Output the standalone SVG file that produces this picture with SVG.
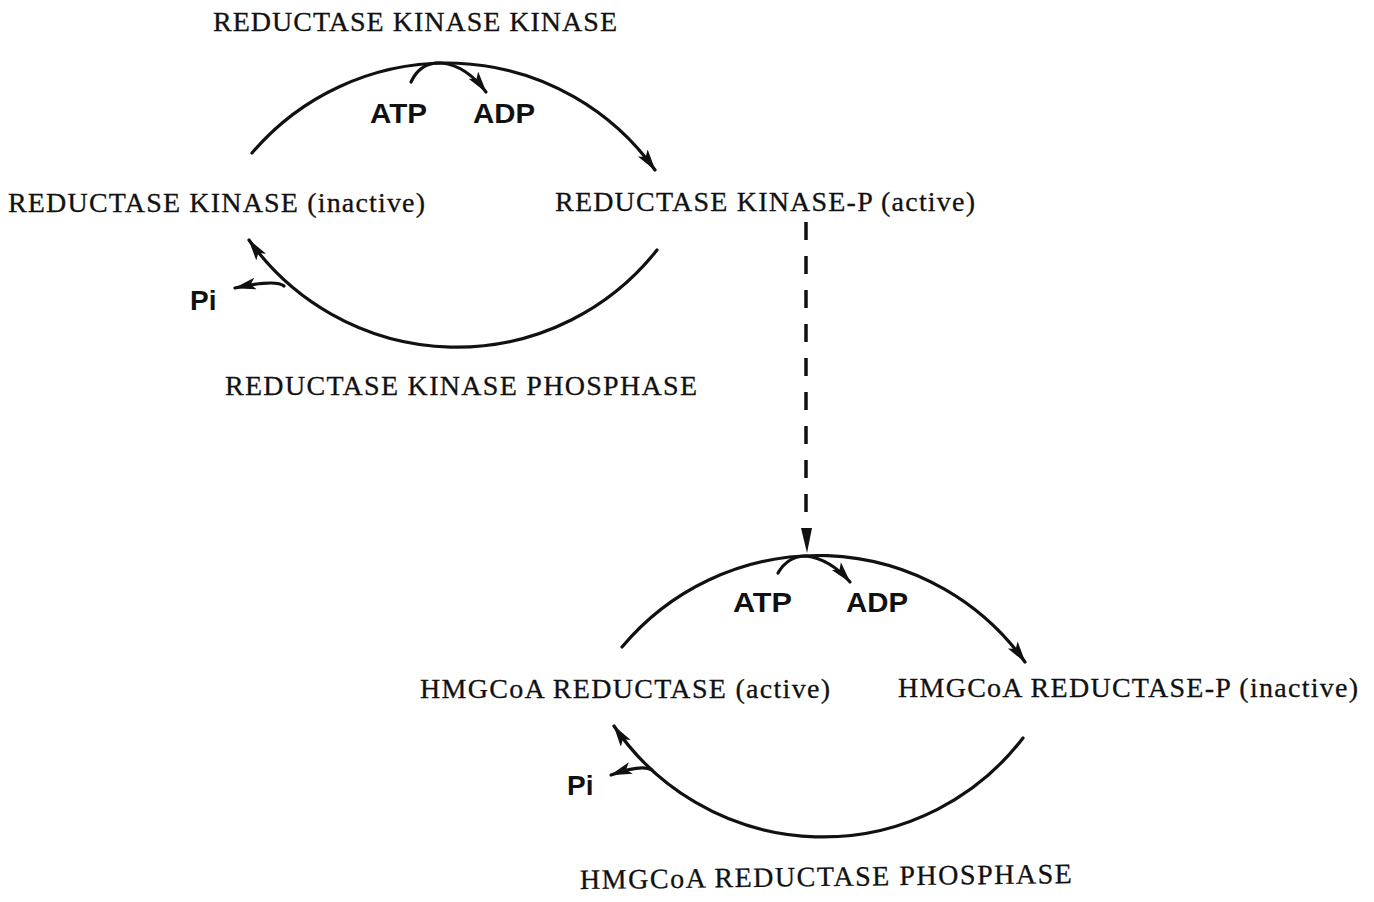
<svg xmlns="http://www.w3.org/2000/svg" width="1374" height="902" viewBox="0 0 1374 902">
<style>
.lbl{font-family:"Liberation Serif","Times New Roman",serif;font-size:28px;fill:#111;stroke:#111;stroke-width:0.3}
.chem{font-family:"Liberation Sans",Arial,sans-serif;font-weight:bold;font-size:28px;fill:#111}
.ln{fill:none;stroke:#111;stroke-width:3.2;stroke-linecap:round}
.dash{fill:none;stroke:#111;stroke-width:3.5;stroke-dasharray:18 16}
</style>
<defs>
<marker id="ah" markerUnits="userSpaceOnUse" markerWidth="24" markerHeight="14" refX="21" refY="6" orient="auto">
<path d="M0,0 L22,6 L0,12 L5,6 Z" fill="#111"/>
</marker>
</defs>
<rect width="1374" height="902" fill="#fff"/>
<g id="connectors">
<path class="ln" d="M252,153 A256,256 0 0 1 655,170" marker-end="url(#ah)"/>
<path class="ln" d="M411,82 C418,67 430,62 442,63 C460,65 474,76 486,92" marker-end="url(#ah)"/>
<path class="ln" d="M657,250 A255,255 0 0 1 249,240" marker-end="url(#ah)"/>
<path class="ln" d="M284,286 Q276,279 235,288" marker-end="url(#ah)"/>
<path class="dash" d="M806,222 L806,530"/>
<path d="M801,528 L812,528 L807,553 Z" fill="#111"/>
<path class="ln" d="M622,647 A255,255 0 0 1 1025,662" marker-end="url(#ah)"/>
<path class="ln" d="M778,573 C785,561 795,556 806,556 C822,558 838,568 850,582" marker-end="url(#ah)"/>
<path class="ln" d="M1023,738 A252,252 0 0 1 614,726" marker-end="url(#ah)"/>
<path class="ln" d="M652,770 Q642,764 611,775" marker-end="url(#ah)"/>
</g>
<g id="rkk"><text class="lbl" x="213" y="31" textLength="404" lengthAdjust="spacing">REDUCTASE KINASE KINASE</text></g>
<g id="rk-inactive"><text class="lbl" x="8" y="212" textLength="417" lengthAdjust="spacing">REDUCTASE KINASE (inactive)</text></g>
<g id="rk-active"><text class="lbl" x="555" y="211" textLength="420" lengthAdjust="spacing">REDUCTASE KINASE-P (active)</text></g>
<g id="rkp"><text class="lbl" x="225" y="395" textLength="472" lengthAdjust="spacing">REDUCTASE KINASE PHOSPHASE</text></g>
<g id="hmg-active"><text class="lbl" x="420" y="698" textLength="410" lengthAdjust="spacing">HMGCoA REDUCTASE (active)</text></g>
<g id="hmg-inactive"><text class="lbl" x="898" y="697" textLength="460" lengthAdjust="spacing">HMGCoA REDUCTASE-P (inactive)</text></g>
<g id="hmgp"><text class="lbl" x="580" y="889" textLength="492" lengthAdjust="spacing" transform="rotate(-0.7 580 889)">HMGCoA REDUCTASE  PHOSPHASE</text></g>
<g id="atp1"><text class="chem" x="370" y="123" textLength="57" lengthAdjust="spacingAndGlyphs">ATP</text></g>
<g id="adp1"><text class="chem" x="473" y="123" textLength="62" lengthAdjust="spacingAndGlyphs">ADP</text></g>
<g id="pi1"><text class="chem" x="190" y="310">Pi</text></g>
<g id="atp2"><text class="chem" x="733" y="612" textLength="59" lengthAdjust="spacingAndGlyphs">ATP</text></g>
<g id="adp2"><text class="chem" x="846" y="612" textLength="62" lengthAdjust="spacingAndGlyphs">ADP</text></g>
<g id="pi2"><text class="chem" x="567" y="795">Pi</text></g>
</svg>
